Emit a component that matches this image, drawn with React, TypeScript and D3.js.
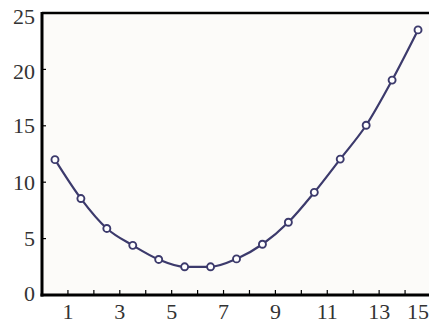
import React from "react";
import * as d3 from "d3";

const xValues = [0.5, 1.5, 2.5, 3.5, 4.5, 5.5, 6.5, 7.5, 8.5, 9.5, 10.5, 11.5, 12.5, 13.5, 14.5];
const yValues = [12.0, 8.55, 5.9, 4.4, 3.15, 2.5, 2.5, 3.2, 4.5, 6.45, 9.1, 12.05, 15.05, 19.05, 23.5];
const xTickLabels = [1, 3, 5, 7, 9, 11, 13, 15];
const xMinorTicks = [2, 4, 6, 8, 10, 12, 14];
const yTickLabels = [0, 5, 10, 15, 20, 25];

const W = 429;
const H = 324;
const left = 42;
const right = 431;
const top = 13;
const bottom = 295;
const color = "#3c3a6c";
const font = "Liberation Serif";

export default function App() {
  const x = d3.scaleLinear().domain([0, 15]).range([left, right]);
  const y = d3.scaleLinear().domain([0, 25]).range([bottom, top]);
  const data = xValues.map((v, i) => [v, yValues[i]] as [number, number]);
  const line = d3
    .line<[number, number]>()
    .x((d) => x(d[0]))
    .y((d) => y(d[1]))
    .curve(d3.curveMonotoneX);

  return (
    <div style={{ position: "fixed", left: 0, top: 0, width: W, height: H, overflow: "hidden" }}>
      <svg width={W} height={H} style={{ display: "block", background: "#ffffff", fontFamily: font }}>
        <rect x={left} y={top} width={W - left} height={bottom - top} fill="#fcfbf9" />
        <path d={line(data) || ""} fill="none" stroke={color} strokeWidth={2.2} />
        {data.map((d, i) => (
          <circle key={i} cx={x(d[0])} cy={y(d[1])} r={3.5} fill="#ffffff" stroke={color} strokeWidth={1.9} />
        ))}
        <line x1={left} x2={W} y1={top} y2={top} stroke="#000" strokeWidth={2.3} />
        <line x1={left} x2={left} y1={top - 1} y2={bottom + 1.5} stroke="#000" strokeWidth={3} />
        <line x1={left - 1.5} x2={W} y1={bottom} y2={bottom} stroke="#000" strokeWidth={3} />
        {[...xTickLabels, ...xMinorTicks].map((t) => (
          <line key={"xt" + t} x1={x(t)} x2={x(t)} y1={bottom} y2={bottom - 5} stroke="#000" strokeWidth={1.2} />
        ))}
        {yTickLabels
          .filter((t) => t > 0 && t < 25)
          .map((t) => (
            <line key={"yt" + t} x1={left} x2={left + 4} y1={y(t)} y2={y(t)} stroke="#000" strokeWidth={1.2} />
          ))}
        {xTickLabels.map((t) => {
          const px = x(t);
          const last = px > W - 12;
          return (
            <text
              key={"xl" + t}
              x={last ? W : px}
              y={319}
              textAnchor={last ? "end" : "middle"}
              fontSize={22}
              fill="#333"
            >
              {t}
            </text>
          );
        })}
        {yTickLabels.map((t) => (
          <text
            key={"yl" + t}
            x={35}
            y={y(t) + 7.5 + (t === 25 ? 3 : t === 20 ? 2 : 0) - (t === 0 ? 2 : 0)}
            textAnchor="end"
            fontSize={22}
            fill="#333"
          >
            {t}
          </text>
        ))}
      </svg>
    </div>
  );
}
